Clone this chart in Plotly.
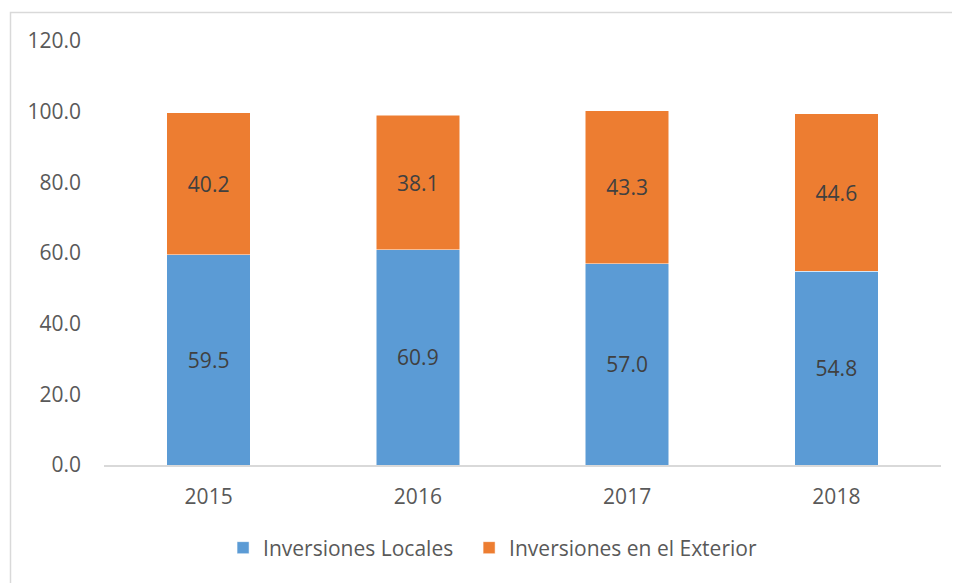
import plotly.graph_objects as go

years = ["2015", "2016", "2017", "2018"]
locales = [59.5, 60.9, 57.0, 54.8]
exterior = [40.2, 38.1, 43.3, 44.6]
y_ticks = [0, 20, 40, 60, 80, 100, 120]
y_tick_labels = ["0.0", "20.0", "40.0", "60.0", "80.0", "100.0", "120.0"]
series_names = ["Inversiones Locales", "Inversiones en el Exterior"]

FONT = "Open Sans, sans-serif"
FS = 21

fig = go.Figure()
fig.add_trace(go.Bar(
    x=years, y=locales, name=series_names[0] + "\u00a0\u00a0",
    marker=dict(color="#5B9BD5", line=dict(color="#ffffff", width=0.5)),
    text=[f"{v:.1f}" for v in locales], textposition="inside",
    insidetextanchor="middle", textfont=dict(color="#404040", size=FS, family=FONT),
))
fig.add_trace(go.Bar(
    x=years, y=exterior, name=series_names[1],
    marker=dict(color="#ED7D31", line=dict(color="#ffffff", width=0.5)),
    text=[f"{v:.1f}" for v in exterior], textposition="inside",
    insidetextanchor="middle", textfont=dict(color="#404040", size=FS, family=FONT),
))

# page body has an 8px offset; work in figure coordinates
OFF = 8
W, H = 952, 575
l, t = 104 - OFF, 41 - OFF
r = W - (941 - OFF)
b = H - (465 - OFF)
pw, ph = W - l - r, H - t - b

def px_x(x):
    return (x - OFF - l) / pw

def px_y(y):
    return (H - b - (y - OFF)) / ph

fig.update_layout(
    width=W, height=H,
    barmode="stack", bargap=0.6,
    margin=dict(l=l, r=r, t=t, b=b, autoexpand=False),
    paper_bgcolor="white", plot_bgcolor="white",
    font=dict(family=FONT, size=FS, color="#595959"),
    showlegend=True,
    legend=dict(orientation="h", x=0.509, xanchor="center", xref="container",
                y=1 - (548 - OFF) / H, yanchor="middle", yref="container",
                font=dict(size=FS, color="#595959"), itemwidth=30, traceorder="normal"),
    uniformtext=dict(mode="show", minsize=10),
    shapes=[dict(type="rect", xref="paper", yref="paper",
                 x0=px_x(10.5), x1=px_x(975), y0=px_y(600), y1=px_y(12.5),
                 line=dict(color="#D9D9D9", width=1.5), fillcolor="rgba(0,0,0,0)", layer="below")],
)
fig.update_xaxes(showline=True, linecolor="#D9D9D9", linewidth=1.5, showgrid=False,
                 ticks="", automargin=False, ticklabelstandoff=12,
                 tickfont=dict(size=FS, color="#595959"))
fig.update_yaxes(range=[0, 120], tickvals=y_ticks, ticktext=y_tick_labels,
                 showgrid=False, zeroline=False, showline=False, ticks="", automargin=False,
                 ticklabelstandoff=22, tickfont=dict(size=FS, color="#595959"))

fig.write_html("out.html")
